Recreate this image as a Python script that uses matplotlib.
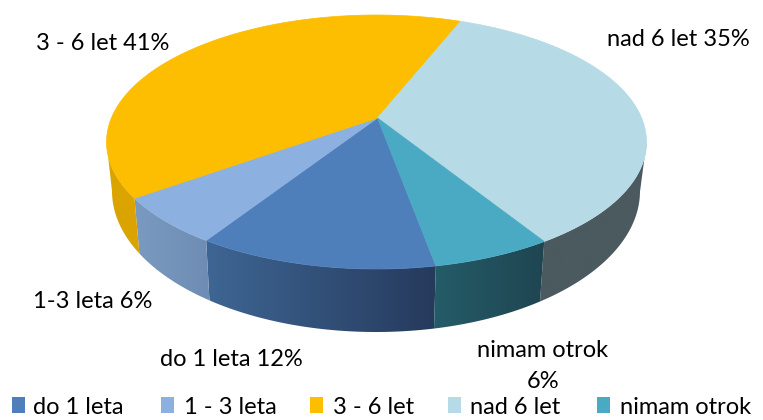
import numpy as np
import matplotlib
matplotlib.use("Agg")
import matplotlib.pyplot as plt
from matplotlib.colors import LinearSegmentedColormap
from matplotlib.patches import Polygon, Rectangle

plt.rcParams['font.family'] = ['Lato', 'DejaVu Sans']

categories = ['do 1 leta', '1 - 3 leta', '3 - 6 let', 'nad 6 let', 'nimam otrok']
values = [12, 6, 41, 35, 6]
data_labels = ['do 1 leta 12%', '1-3 leta 6%', '3 - 6 let 41%', 'nad 6 let 35%', 'nimam otrok\n6%']

colors = ['#4f7fbb', '#8cb0e0', '#fdbd00', '#b6dbe6', '#4aaac4']
# side shading, left colour to right colour on the page
side_left = ['#3e6694', '#7a9ac0', '#dba400', '#4b5a5f', '#245c68']
side_right = ['#263a5c', '#6f8db4', '#dba400', '#4b5a5f', '#1f4551']

start = 169.5   # first slice, degrees clockwise from 12 o'clock
persp = 0.189   # pushes the pie centre up the way the 3d view does

W, H = 763, 420
fig = plt.figure(figsize=(W / 100, H / 100), dpi=100)
ax = fig.add_axes([0, 0, 1, 1])


def rim(deg, cx, cy, rx, ry):
    t = np.radians(deg)
    x0, y0 = np.sin(t), np.cos(t)
    d = 1 + persp * y0
    x = x0 * np.sqrt(1 - persp ** 2) / d
    y = (y0 + persp) / d
    return cx + rx * x, cy - ry * y


TOP = (376.5, 142, 270, 127)
BOT = (376, 191, 264, 141)

edges = start + np.cumsum([0] + values) * 3.6

# sides first, the top face covers whatever is behind
for i in range(len(values)):
    a = np.linspace(edges[i], edges[i + 1], 400)
    xt, yt = rim(a, *TOP)
    xb, yb = rim(a[::-1], *BOT)
    # keep the lower half of each rim, the straight joins make the silhouette
    keep_t, keep_b = yt >= TOP[1], yb >= BOT[1]
    pts = np.column_stack([np.r_[xt[keep_t], xb[keep_b]], np.r_[yt[keep_t], yb[keep_b]]])
    outline = Polygon(pts, closed=True, facecolor='none', edgecolor='none')
    ax.add_patch(outline)
    cmap = LinearSegmentedColormap.from_list('side', [side_left[i], side_right[i]])
    ramp = np.linspace(0, 1, 256).reshape(1, -1)
    im = ax.imshow(ramp, cmap=cmap, extent=(pts[:, 0].min(), pts[:, 0].max(), H, 0), aspect='auto', vmin=0, vmax=1)
    im.set_clip_path(outline)

ax.set_xlim(0, W)
ax.set_ylim(H, 0)
ax.axis('off')

cap_x, cap_y = TOP[0] + 1, TOP[1] - TOP[3] * persp
for i in range(len(values)):
    a = np.linspace(edges[i], edges[i + 1], 80)
    xs, ys = rim(a, *TOP)
    pts = [(cap_x, cap_y)] + list(zip(xs, ys))
    ax.add_patch(Polygon(pts, closed=True, facecolor=colors[i], edgecolor=colors[i], linewidth=0.5, zorder=3))

label_pos = [(231, 360), (93, 302), (103, 44), (678, 40), (543, 366)]
for s, (x, y) in zip(data_labels, label_pos):
    ax.text(x, y, s, ha='center', va='center', fontsize=17, color='black', linespacing=1.55, zorder=4)

swatch_x = [12, 161, 310, 448, 597]
text_x = [33, 184, 333, 470, 620]
for name, c, sx, tx in zip(categories, colors, swatch_x, text_x):
    ax.add_patch(Rectangle((sx, 397), 13, 16, facecolor=c, edgecolor='none', zorder=4))
    ax.text(tx, 408, name, ha='left', va='center', fontsize=17, color='black', zorder=4)

fig.savefig('out.png', dpi=100)
